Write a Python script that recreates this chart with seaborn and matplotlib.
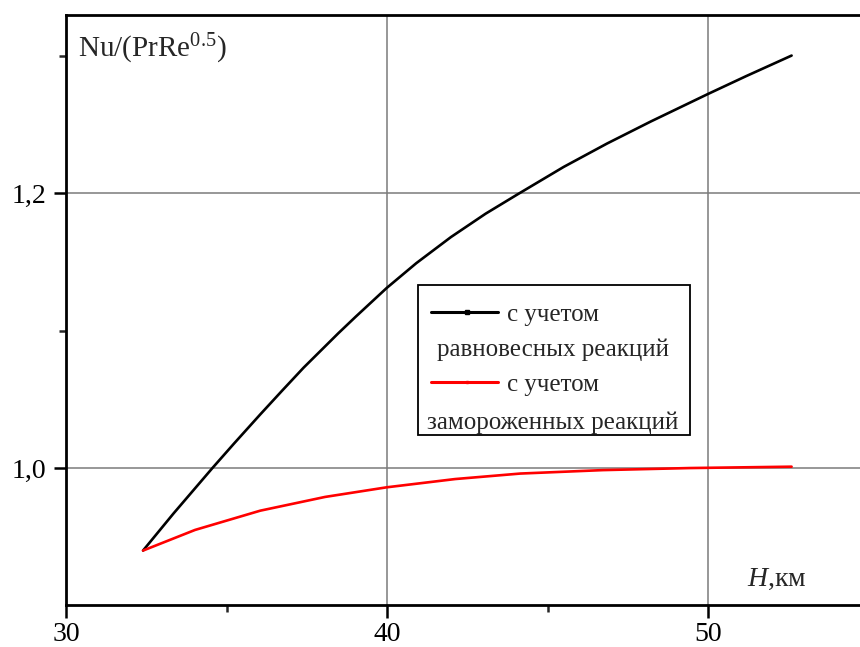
import pandas as pd
import numpy as np
import matplotlib
matplotlib.use("Agg")
import matplotlib.pyplot as plt
from matplotlib.lines import Line2D
from matplotlib.patches import Rectangle
from matplotlib.ticker import MultipleLocator
import seaborn as sns

# --- data ---
H_equil = [32.40, 33.35, 34.56, 35.24, 36.05, 36.72, 37.40, 38.48, 39.02, 39.99,
           40.91, 41.99, 43.07, 44.06, 45.50, 46.85, 48.21, 49.99, 51.18, 52.60]
Nu_equil = [0.940, 0.967, 1.000, 1.018, 1.039, 1.056, 1.073, 1.098, 1.110, 1.131,
            1.149, 1.168, 1.185, 1.199, 1.219, 1.236, 1.252, 1.272, 1.285, 1.300]

H_frozen = [32.40, 34.02, 36.05, 38.07, 39.99, 42.12, 44.15, 46.72, 49.42, 52.60]
Nu_frozen = [0.940, 0.955, 0.969, 0.979, 0.986, 0.992, 0.996, 0.9985, 1.000, 1.001]

series_names = ["equil", "frozen"]
series_colors = {"equil": "black", "frozen": "red"}
legend_lines = [("с учетом", "равновесных реакций"),
                ("с учетом", "замороженных реакций")]

x_ticks = [30, 40, 50]
y_ticks = [1.0, 1.2]
y_ticklabels = ["1,0", "1,2"]

df = pd.concat([
    pd.DataFrame({"H": H_equil, "Nu": Nu_equil, "case": "equil"}),
    pd.DataFrame({"H": H_frozen, "Nu": Nu_frozen, "case": "frozen"}),
])

sns.set_style("white")
plt.rcParams["font.family"] = ["Liberation Serif", "DejaVu Serif"]
plt.rcParams["mathtext.fontset"] = "custom"
plt.rcParams["mathtext.rm"] = "Liberation Serif"
plt.rcParams["mathtext.it"] = "Liberation Serif:italic"

W, Hpx = 860, 647
fig = plt.figure(figsize=(W / 100, Hpx / 100), dpi=100)
ax = fig.add_axes([66 / W, 1 - 605 / Hpx, 794 / W, 590 / Hpx])


def fx(px):
    return px / W


def fy(py):
    return 1 - py / Hpx


sns.lineplot(data=df, x="H", y="Nu", hue="case", hue_order=series_names,
             palette=series_colors, linewidth=1.9, legend=False, ax=ax,
             estimator=None, sort=True)

ax.set_xlim(30, 54.73)
ax.set_ylim(0.9004, 1.3295)
ax.set_xticks(x_ticks)
ax.xaxis.set_minor_locator(MultipleLocator(5))
ax.set_yticks(y_ticks)
ax.set_yticklabels(y_ticklabels)
ax.yaxis.set_minor_locator(MultipleLocator(0.1))
ax.set_xlabel("")
ax.set_ylabel("")

ax.grid(True, which="major", color="#7a7a7a", linewidth=1.1)
ax.tick_params(which="major", direction="out", length=9, width=1.8,
               labelsize=20, pad=3, colors="black")
ax.tick_params(which="minor", direction="out", length=5, width=1.8)
ax.tick_params(axis="y", which="major", pad=5)
ax.tick_params(left=True, bottom=True, which="both")

for side in ["left", "bottom", "top"]:
    ax.spines[side].set_color("black")
    ax.spines[side].set_linewidth(2.0)
ax.spines["right"].set_visible(False)

# axis captions inside the plot area
ax.text(fx(78), fy(57), r"Nu/(PrRe$^{\mathregular{0.5}}$)", transform=fig.transFigure,
        fontsize=21, ha="left", va="baseline")
ax.text(fx(747), fy(586), r"$H$,км", transform=fig.transFigure,
        fontsize=20, ha="left", va="baseline")

# legend box
fig.patches.append(Rectangle((fx(418), fy(435)), fx(690) - fx(418), fy(285) - fy(435),
                             transform=fig.transFigure, facecolor="white",
                             edgecolor="black", linewidth=1.3, zorder=5))
rows = [(312, 347), (382, 420)]
for (first, second), (y1, y2), name in zip(legend_lines, rows, series_names):
    c = series_colors[name]
    fig.lines.append(Line2D([fx(431), fx(498)], [fy(y1), fy(y1)], color=c,
                            linewidth=2.2, transform=fig.transFigure, zorder=6))
    fig.lines.append(Line2D([fx(467)], [fy(y1)], color=c, marker="s",
                            markersize=3 if name == "equil" else 2,
                            transform=fig.transFigure, zorder=6))
    fig.text(fx(507), fy(y1), first, fontsize=18, ha="left", va="center_baseline", zorder=7)
    fig.text(fx(553), fy(y2), second, fontsize=18, ha="center", va="center_baseline", zorder=7)

fig.savefig("out.png", dpi=100)
